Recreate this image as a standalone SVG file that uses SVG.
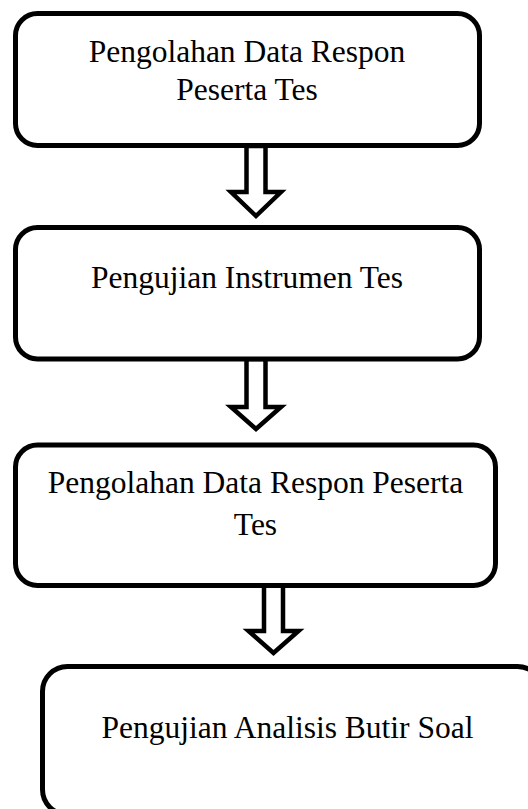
<svg xmlns="http://www.w3.org/2000/svg" width="528" height="809" viewBox="0 0 528 809">
<style>
.box{fill:#fff;stroke:#000;stroke-width:5}
.arr{fill:#fff;stroke:#000;stroke-width:4.5;stroke-linejoin:miter;stroke-miterlimit:10}
.t{font-family:"Liberation Serif","Times New Roman",serif;font-size:31.5px;fill:#000;text-anchor:middle}
</style>
<rect width="528" height="809" fill="#fff"/>
<g id="connectors">
<polygon class="arr" points="246.5,146 246.5,192 231,192 256,216 281,192 265.5,192 265.5,146"/>
<polygon class="arr" points="246.5,359 246.5,407 231,407 256,429 281,407 265.5,407 265.5,359"/>
<polygon class="arr" points="264,585.5 264,631 248.5,631 273.5,653 298.5,631 283,631 283,585.5"/>
</g>
<g id="node1">
<rect class="box" x="15.5" y="13.5" width="464" height="132" rx="22"/>
<text class="t" x="247" y="61.5">Pengolahan Data Respon</text>
<text class="t" x="247" y="100">Peserta Tes</text>
</g>
<g id="node2">
<rect class="box" x="15.5" y="227.5" width="464" height="131.5" rx="22"/>
<text class="t" x="247" y="288">Pengujian Instrumen Tes</text>
</g>
<g id="node3">
<rect class="box" x="15.5" y="445" width="480" height="140.5" rx="22"/>
<text class="t" x="255.5" y="493">Pengolahan Data Respon Peserta</text>
<text class="t" x="255.5" y="535">Tes</text>
</g>
<g id="node4">
<rect class="box" x="42.5" y="666.5" width="500" height="148" rx="25"/>
<text class="t" x="287.5" y="738">Pengujian Analisis Butir Soal</text>
</g>
</svg>
